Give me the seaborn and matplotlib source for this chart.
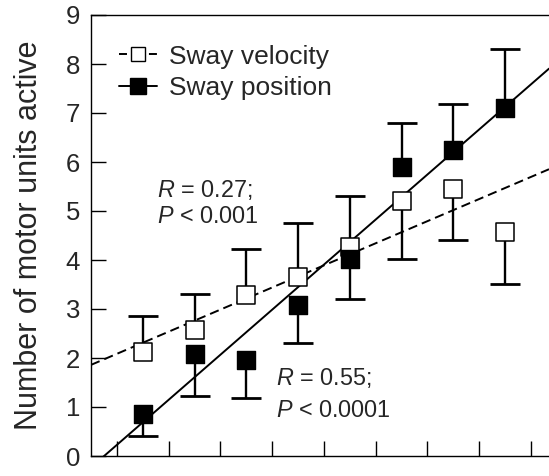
import matplotlib
matplotlib.use("Agg")
import matplotlib.pyplot as plt
from matplotlib.lines import Line2D
import numpy as np
import seaborn as sns

# ---- data ----
bins = [1, 2, 3, 4, 5, 6, 7, 8]
velocity_mean = [2.12, 2.57, 3.29, 3.65, 4.27, 5.20, 5.45, 4.57]
velocity_bar_end = [2.86, 3.31, 4.22, 4.75, 5.31, 4.02, 4.41, 3.51]
position_mean = [0.86, 2.08, 1.96, 3.08, 4.02, 5.90, 6.24, 7.10]
position_bar_end = [0.41, 1.23, 1.19, 2.31, 3.20, 6.80, 7.18, 8.30]
y_ticks = [0, 1, 2, 3, 4, 5, 6, 7, 8, 9]
x_ticks = [0.5, 1.5, 2.5, 3.5, 4.5, 5.5, 6.5, 7.5, 8.5]
labels = ["Sway velocity", "Sway position"]
stats = [("$R$ = 0.27;", "$P$ < 0.001"), ("$R$ = 0.55;", "$P$ < 0.0001")]

sns.set_style("white")
plt.rcParams["font.family"] = ["Liberation Sans", "DejaVu Sans"]
plt.rcParams["mathtext.fontset"] = "custom"
plt.rcParams["mathtext.rm"] = "Liberation Sans"
plt.rcParams["mathtext.it"] = "Liberation Sans:italic"

fig = plt.figure(figsize=(5.49, 4.76), dpi=100)
ax = fig.add_axes([91 / 549, 20 / 476, 458 / 549, 441 / 476])
ax.set_xlim(0, 8.85)
ax.set_ylim(0, 9)

# regression lines
sns.regplot(x=bins, y=velocity_mean, ax=ax, scatter=False, ci=None, truncate=False,
            line_kws=dict(color="black", lw=1.4, ls=(0, (4.8, 2.6)), zorder=2))
sns.regplot(x=bins, y=position_mean, ax=ax, scatter=False, ci=None, truncate=False,
            line_kws=dict(color="black", lw=1.4, ls="-", zorder=2))


def draw_bars(x, mean, end):
    mean = np.asarray(mean)
    end = np.asarray(end)
    lower = np.clip(mean - end, 0, None)
    upper = np.clip(end - mean, 0, None)
    ax.errorbar(x, mean, yerr=[lower, upper], fmt="none", ecolor="black",
                elinewidth=1.7, capsize=0, zorder=3)
    ax.plot(x, end, ls="none", marker="_", markersize=21, mew=2.0,
            color="black", zorder=3)


draw_bars(bins, velocity_mean, velocity_bar_end)
draw_bars(bins, position_mean, position_bar_end)

sns.scatterplot(x=bins, y=velocity_mean, ax=ax, marker="s", s=150,
                facecolor="white", edgecolor="black", linewidth=1.1, zorder=4)
sns.scatterplot(x=bins, y=position_mean, ax=ax, marker="s", s=165,
                facecolor="black", edgecolor="black", linewidth=1.0, zorder=4)

ax.set_xlim(0, 8.85)
ax.set_ylim(0, 9)
ax.set_xticks(x_ticks)
ax.set_xticklabels([])
ax.set_yticks(y_ticks)
ax.set_yticklabels([str(t) for t in y_ticks])
ax.tick_params(axis="both", direction="in", length=10.5, width=1.0, color="black",
               pad=8, left=True, bottom=True)
ax.tick_params(axis="y", labelsize=18.5)
for side in ["left", "bottom", "top"]:
    ax.spines[side].set_visible(True)
    ax.spines[side].set_color("black")
    ax.spines[side].set_linewidth(1.0)
ax.spines["right"].set_visible(False)

ax.set_ylabel("Number of motor units active", fontsize=22)
ax.yaxis.set_label_coords(-0.1037, 0.501)
ax.set_xlabel("")

# annotations
fs_ann = 16.8
ax.text(1.27, 5.29, stats[0][0], fontsize=fs_ann, va="baseline", ha="left")
ax.text(1.27, 4.76, stats[0][1], fontsize=fs_ann, va="baseline", ha="left")
ax.text(3.57, 1.45, stats[1][0], fontsize=fs_ann, va="baseline", ha="left")
ax.text(3.57, 0.80, stats[1][1], fontsize=fs_ann, va="baseline", ha="left")

handles = [
    Line2D([], [], color="black", lw=1.4, ls=(0, (4.1, 11.3)), marker="s", markersize=10,
           markerfacecolor="white", markeredgecolor="black", markeredgewidth=1.0),
    Line2D([], [], color="black", lw=1.4, ls="-", marker="s", markersize=11,
           markerfacecolor="black", markeredgecolor="black"),
]
ax.legend(handles, labels, loc="upper left", bbox_to_anchor=(0.061, 0.933),
          frameon=False, fontsize=19, handlelength=1.44, handletextpad=0.45,
          labelspacing=0.29, borderpad=0, borderaxespad=0)

fig.savefig("out.png", dpi=100)
